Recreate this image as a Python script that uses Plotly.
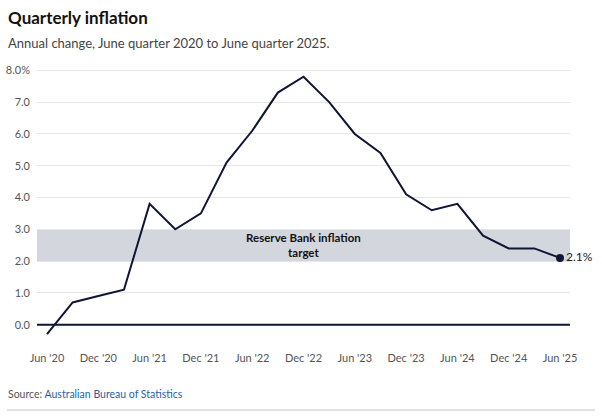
import plotly.graph_objects as go

quarters = ["Jun 2020","Sep 2020","Dec 2020","Mar 2021","Jun 2021","Sep 2021","Dec 2021",
            "Mar 2022","Jun 2022","Sep 2022","Dec 2022","Mar 2023","Jun 2023","Sep 2023",
            "Dec 2023","Mar 2024","Jun 2024","Sep 2024","Dec 2024","Mar 2025","Jun 2025"]
inflation = [-0.3, 0.7, 0.9, 1.1, 3.8, 3.0, 3.5, 5.1, 6.1, 7.3, 7.8, 7.0, 6.0, 5.4,
             4.1, 3.6, 3.8, 2.8, 2.4, 2.4, 2.1]
tick_idx = [0, 2, 4, 6, 8, 10, 12, 14, 16, 18, 20]
tick_labels = ["Jun '20","Dec '20","Jun '21","Dec '21","Jun '22","Dec '22",
               "Jun '23","Dec '23","Jun '24","Dec '24","Jun '25"]
y_ticks = [0, 1, 2, 3, 4, 5, 6, 7, 8]
y_labels = ["0.0","1.0","2.0","3.0","4.0","5.0","6.0","7.0","8.0%"]
band_low, band_high = 2.0, 3.0

FONT = "Lato"
LINE = "#0f1535"
W, H = 602, 419
L, R, T, B = 37, 32, 64, 80
PW, PH = W - L - R, H - T - B


def px(xp):
    return (xp - L) / PW


def py(yp):
    return (H - B - yp) / PH


x = list(range(len(quarters)))

fig = go.Figure()
fig.add_trace(go.Scatter(x=x, y=inflation, mode="lines", line=dict(color=LINE, width=2),
                         customdata=quarters, hovertemplate="%{customdata}: %{y}%<extra></extra>",
                         cliponaxis=False))
fig.add_trace(go.Scatter(x=[x[-1]], y=[inflation[-1]], mode="markers+text",
                         marker=dict(color=LINE, size=8),
                         text=[f"{inflation[-1]}%"], textposition="middle right",
                         textfont=dict(family=FONT, size=12, color="#222"),
                         hoverinfo="skip", cliponaxis=False))

fig.add_shape(type="rect", xref="paper", yref="y", x0=0, x1=1, y0=band_low, y1=band_high,
              fillcolor="#d4d6dd", line_width=0, layer="below")
fig.add_shape(type="line", xref="paper", yref="y", x0=0, x1=1, y0=0, y1=0,
              line=dict(color=LINE, width=2))
fig.add_shape(type="line", xref="paper", yref="paper", x0=px(7), x1=px(595), y0=py(410), y1=py(410),
              line=dict(color="#e3e3e3", width=2))

fig.add_annotation(x=10, y=(band_low + band_high) / 2, xref="x", yref="y",
                   text="<b>Reserve Bank inflation<br>target</b>", showarrow=False,
                   font=dict(family=FONT, size=11.5, color="#111"), align="center")
fig.add_annotation(x=px(6), y=py(17), xref="paper", yref="paper", text="<b>Quarterly inflation</b>",
                   showarrow=False, xanchor="left", yanchor="middle",
                   font=dict(family=FONT, size=17, color="#111"))
fig.add_annotation(x=px(6), y=py(43), xref="paper", yref="paper",
                   text="Annual change, June quarter 2020 to June quarter 2025.",
                   showarrow=False, xanchor="left", yanchor="middle",
                   font=dict(family=FONT, size=13, color="#444"))
fig.add_annotation(x=px(6), y=py(394), xref="paper", yref="paper",
                   text="Source: <span style='color:#1f5fa8'>Australian Bureau of Statistics</span>",
                   showarrow=False, xanchor="left", yanchor="middle",
                   font=dict(family=FONT, size=10.5, color="#555"))

fig.update_layout(
    width=W, height=H,
    margin=dict(l=L, r=R, t=T, b=B, autoexpand=False),
    paper_bgcolor="white", plot_bgcolor="white",
    showlegend=False,
    font=dict(family=FONT, size=11, color="#555"),
    xaxis=dict(range=[-0.39, 20.39], tickmode="array", tickvals=tick_idx, ticktext=tick_labels,
               showgrid=False, zeroline=False, showline=False, ticks="", automargin=False,
               ticklabelstandoff=11, tickfont=dict(size=11, color="#555"), fixedrange=True),
    yaxis=dict(range=[-0.45, 8.2], tickmode="array", tickvals=y_ticks, ticktext=y_labels,
               showgrid=True, gridcolor="#e6e6e6", gridwidth=1, zeroline=False, automargin=False,
               ticks="", ticklabelstandoff=6, tickfont=dict(size=11, color="#555"), fixedrange=True),
)
fig.write_html("out.html")
